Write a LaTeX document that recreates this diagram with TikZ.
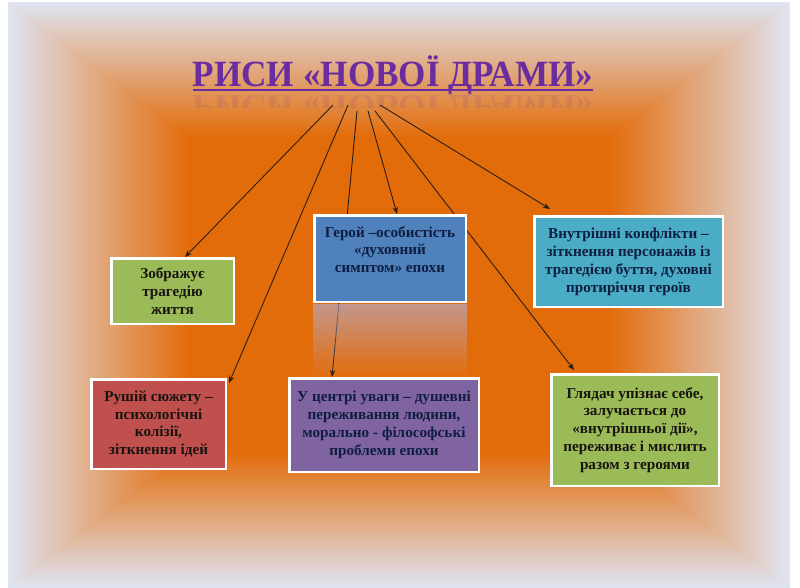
\documentclass[tikz,border=0pt]{standalone}
\usepackage{fontspec}
\setmainfont{Liberation Serif}
\usetikzlibrary{arrows.meta,shadows,fadings}
\definecolor{bgor}{HTML}{E36C0A}
\definecolor{bgedge}{HTML}{DFE4F2}
\definecolor{titlepurple}{HTML}{6A2C9E}
\definecolor{cgreen}{HTML}{9BBB59}
\definecolor{cblue}{HTML}{4F81BD}
\definecolor{caqua}{HTML}{4BACC6}
\definecolor{cred}{HTML}{C0504D}
\definecolor{cviolet}{HTML}{8064A2}
\definecolor{linecol}{HTML}{2B1D12}
\definecolor{navytext}{HTML}{0F1E40}
\definecolor{darktext}{HTML}{1A1410}
\definecolor{reflblue}{HTML}{B0B4E4}
\pgfdeclarelayer{bg}
\pgfdeclarelayer{lines}
\pgfsetlayers{bg,lines,main}
\begin{document}
\begin{tikzpicture}[x=1pt,y=-1pt,
  box/.style={draw=white, line width=2.5pt, align=center, inner sep=0pt,
    font=\bfseries\fontsize{15.2}{17.9}\selectfont,
    drop shadow={opacity=0.3,shadow xshift=1.5pt,shadow yshift=-1.5pt}},
  conn/.style={draw=linecol, line width=0.9pt, -{Stealth[length=7pt,width=5.5pt]}}]
\useasboundingbox (0,0) rectangle (800,588);
\begin{pgfonlayer}{bg}
\fill[white] (0,0) rectangle (800,588);
\foreach \i in {0,...,92}{
  \pgfmathsetmacro{\p}{min(100,\i*100/92)}
  \fill[bgor!\p!bgedge] ({8+\i*1.955},{2+\i*1.465}) rectangle ({790-\i*1.955},{588-\i*1.465});
}
\end{pgfonlayer}

% title
\node[font=\bfseries\fontsize{37}{40}\selectfont, text=titlepurple, inner sep=0pt, anchor=base, xscale=0.95] (title) at (393,87) {РИСИ «НОВОЇ ДРАМИ»};
\draw[titlepurple, line width=2pt] ([yshift=-3pt]title.base west) -- ([yshift=-3pt]title.base east);
\begin{scope}
\clip (150,93) rectangle (650,108);
\node[font=\bfseries\fontsize{37}{40}\selectfont, text=titlepurple, inner sep=0pt, anchor=base, xscale=0.95, yscale=-1, opacity=0.12] (titlerefl) at (393,96) {РИСИ «НОВОЇ ДРАМИ»};
\end{scope}

% boxes
\fill[color=reflblue, opacity=0.6, path fading=south] (313,304) rectangle (467,378);
\node[box, fill=cgreen, text=darktext, minimum width=122.5pt, minimum height=65.5pt] (zob) at (172.5,291) {Зображує\\трагедію\\життя};
\node[box, fill=cblue, text=navytext, minimum width=151.5pt, minimum height=86.5pt] (hero) at (390,258.5) {Герой –особистість\\«духовний\\симптом» епохи\\\mbox{}};
\node[box, fill=caqua, text=navytext, minimum width=188.5pt, minimum height=90.5pt] (vnut) at (628.5,261.5) {Внутрішні конфлікти –\\зіткнення персонажів із\\трагедією буття, духовні\\протиріччя героїв};
\node[box, fill=cred, text=darktext, minimum width=134.5pt, minimum height=89.5pt] (rush) at (158.5,424) {Рушій сюжету –\\психологічні\\колізії,\\зіткнення ідей};
\node[box, fill=cviolet, text=navytext, minimum width=189.5pt, minimum height=93.5pt] (centr) at (384,425) {У центрі уваги – душевні\\переживання людини,\\морально - філософські\\проблеми епохи};
\node[box, fill=cgreen, text=darktext, minimum width=167.5pt, minimum height=111.5pt] (hlyad) at (635,430) {Глядач упізнає себе,\\залучається до\\«внутрішньої дії»,\\переживає і мислить\\разом з героями};

% connectors
\coordinate (s1) at (333,105);
\coordinate (s2) at (348,105);
\coordinate (s3) at (357,111);
\coordinate (s4) at (368,111);
\coordinate (s5) at (375,111);
\coordinate (s6) at (380,105);
\begin{pgfonlayer}{lines}
\draw[conn] (s1) -- ([xshift=12.5pt]zob.north);
\draw[conn] (s2) -- ([xshift=2pt,yshift=-5pt]rush.north east);
\draw[conn] (s3) -- ([xshift=-52pt]centr.north);
\draw[conn] (s4) -- ([xshift=7pt]hero.north);
\draw[conn] (s5) -- ([xshift=24pt,yshift=3pt]hlyad.north west);
\draw[conn] (s6) -- ([xshift=17pt,yshift=6pt]vnut.north west);
\end{pgfonlayer}
\end{tikzpicture}
\end{document}
